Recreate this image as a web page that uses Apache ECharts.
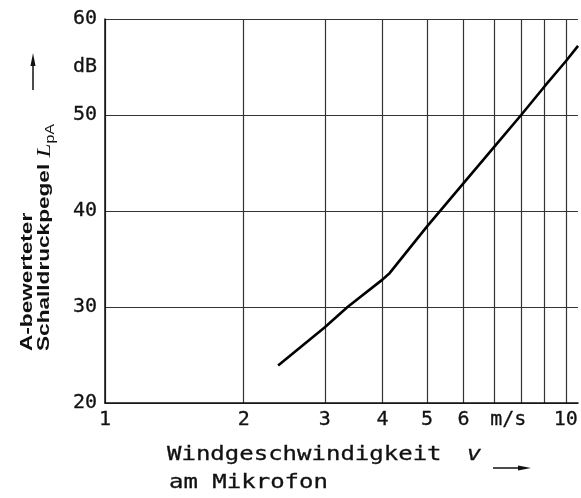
<!DOCTYPE html>
<html>
<head>
<meta charset="utf-8">
<script src="https://cdn.jsdelivr.net/npm/echarts@6/dist/echarts.min.js"></script>
<style>
html,body{margin:0;padding:0;background:#fff;}
#chart{width:581px;height:498px;}
</style>
</head>
<body>
<div id="chart"></div>
<script>
// Wind speed at microphone (m/s) and A-weighted sound pressure level (dB)
const windSpeed = [2.375, 3, 3.36, 4, 4.15, 5, 6, 7, 8, 9, 10, 10.63];
const soundLevel = [23.9, 27.9, 30, 32.85, 33.55, 38.4, 42.9, 46.7, 50, 53.0, 55.6, 57.2];

// x grid lines (log scale) and tick labels
const xGridValues = [1, 2, 3, 4, 5, 6, 7, 8, 9, 10];
const xLabelValues = [1, 2, 3, 4, 5, 6, 7.5, 10];
const xLabelTexts = ['1', '2', '3', '4', '5', '6', 'm/s', '10'];
const xMax = 10.63;

// y axis
const yMin = 20, yMax = 60, yStep = 10;
const yUnitValue = 55, yUnitText = 'dB';

const lg = v => Math.log10(v);
const monoFont = '"DejaVu Sans Mono", monospace';

const chart = echarts.init(document.getElementById('chart'), null, {renderer: 'canvas'});
chart.setOption({
  backgroundColor: '#fff',
  animation: false,
  grid: {left: 105, top: 19, right: 0, bottom: 95, containLabel: false},
  xAxis: {
    type: 'value',
    min: 0,
    max: lg(xMax),
    axisLine: {show: true, lineStyle: {color: '#111', width: 1.5}},
    axisTick: {show: false, customValues: xGridValues.map(lg)},
    splitLine: {show: true, lineStyle: {color: '#333', width: 1.2}},
    axisLabel: {
      customValues: xLabelValues.map(lg),
      formatter: function (val) {
        const v = Math.pow(10, val);
        const i = xLabelValues.findIndex(x => Math.abs(x - v) < 1e-6 * x + 1e-9);
        return i >= 0 ? xLabelTexts[i] : '';
      },
      color: '#111',
      fontFamily: monoFont,
      fontSize: 20,
      margin: 7,
      textBorderColor: '#111',
      textBorderWidth: 0.3
    }
  },
  yAxis: [{
    type: 'value',
    min: yMin,
    max: yMax,
    interval: yStep,
    axisLine: {show: true, lineStyle: {color: '#111', width: 1.5}},
    axisTick: {show: false},
    splitLine: {show: true, lineStyle: {color: '#333', width: 1.2}},
    axisLabel: {color: '#111', fontFamily: monoFont, fontSize: 20, margin: 8, textBorderColor: '#111', textBorderWidth: 0.3}
  }, {
    type: 'value',
    position: 'left',
    min: yMin,
    max: yMax,
    interval: 5,
    axisLine: {show: false},
    axisTick: {show: false},
    splitLine: {show: false},
    axisLabel: {
      formatter: v => (v === yUnitValue ? yUnitText : ''),
      color: '#111', fontFamily: monoFont, fontSize: 20, margin: 8,
      textBorderColor: '#111', textBorderWidth: 0.3
    }
  }],
  series: [{
    type: 'line',
    data: windSpeed.map((v, i) => [lg(v), soundLevel[i]]),
    showSymbol: false,
    symbol: 'none',
    smooth: false,
    clip: false,
    lineStyle: {color: '#000', width: 2.6}
  }],
  graphic: [
    {
      type: 'text',
      x: 36,
      y: 351,
      rotation: Math.PI / 2,
      scaleX: 1.33,
      style: {
        text: '{a|A-bewerteter}\n{a|Schalldruckpegel }{L|L}{s|pA}',
        align: 'left',
        verticalAlign: 'middle',
        fill: '#111',
        rich: {
          a: {fontFamily: '"Liberation Sans", Arial, sans-serif', fontWeight: 'bold', fontSize: 17, lineHeight: 17, fill: '#111'},
          L: {fontFamily: '"Liberation Serif", "DejaVu Serif", serif', fontStyle: 'italic', fontSize: 19, lineHeight: 17, fill: '#111'},
          s: {fontFamily: '"Liberation Sans", Arial, sans-serif', fontSize: 12, lineHeight: 17, verticalAlign: 'bottom', padding: [0, 0, -4, 0], fill: '#111'}
        }
      }
    },
    {
      type: 'text',
      x: 167,
      y: 455,
      scaleX: 1.2,
      style: {
        text: 'Windgeschwindigkeit{v|v}',
        align: 'left',
        verticalAlign: 'middle',
        fill: '#111',
        stroke: '#111',
        lineWidth: 0.3,
        font: '20px ' + monoFont,
        rich: {v: {fontFamily: monoFont, fontSize: 20, fontStyle: 'italic', padding: [0, 0, 0, 21], fill: '#111'}}
      }
    },
    {
      type: 'text',
      x: 169,
      y: 483,
      scaleX: 1.2,
      style: {
        text: 'am Mikrofon',
        align: 'left',
        verticalAlign: 'middle',
        fill: '#111',
        stroke: '#111',
        lineWidth: 0.3,
        font: '20px ' + monoFont
      }
    },
    // up arrow next to y title
    {type: 'line', shape: {x1: 33, y1: 90, x2: 33, y2: 62}, style: {stroke: '#111', lineWidth: 1.5}},
    {type: 'polygon', shape: {points: [[33, 53], [30.5, 66], [35.5, 66]]}, style: {fill: '#111'}},
    // right arrow next to x title
    {type: 'line', shape: {x1: 493, y1: 468, x2: 522, y2: 468}, style: {stroke: '#111', lineWidth: 1.5}},
    {type: 'polygon', shape: {points: [[531, 468], [518, 465.5], [518, 470.5]]}, style: {fill: '#111'}}
  ]
});
</script>
</body>
</html>
